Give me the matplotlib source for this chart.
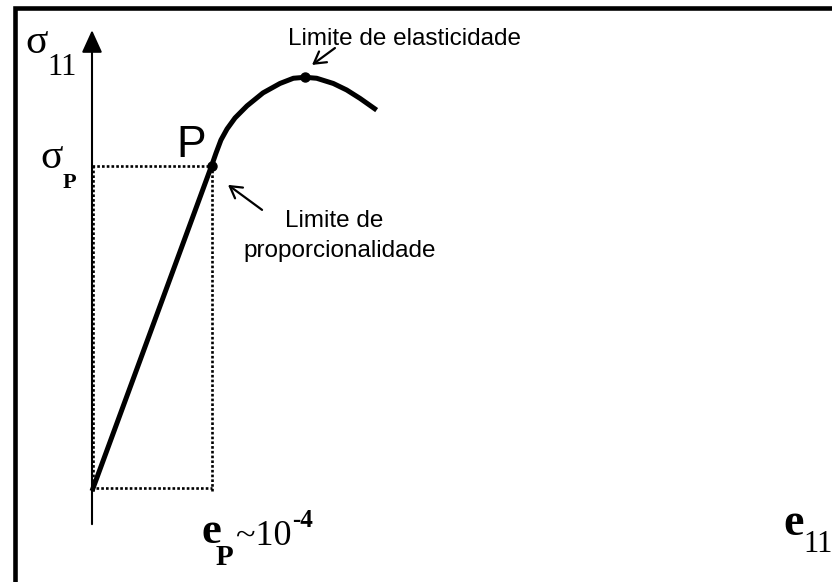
import matplotlib
matplotlib.use("Agg")
import matplotlib.pyplot as plt
from matplotlib.patches import Rectangle

# Stress-strain curve (strain in units of e_P, stress in units of sigma_P)
strain = [0.0, 1.0, 1.038, 1.079, 1.130, 1.197, 1.297, 1.431, 1.573, 1.685,
          1.782, 1.880, 2.019, 2.131, 2.243, 2.382]
stress = [0.0, 1.0, 1.040, 1.080, 1.114, 1.148, 1.185, 1.225, 1.254, 1.270,
          1.273, 1.270, 1.254, 1.234, 1.208, 1.172]

prop_limit = (1.0, 1.0)          # point P
elastic_limit = (1.782, 1.273)   # top of the curve

label_elastic = "Limite de elasticidade"
label_prop = ["Limite de", "proporcionalidade"]
label_p = "P"

SERIF = "Liberation Serif"
SANS = "Liberation Sans"

fig = plt.figure(figsize=(8.32, 5.82), dpi=100)
ax = fig.add_axes([0, 0, 1, 1])
ax.set_xlim(-0.7699, 6.1925)
ax.set_ylim(-0.28, 1.5108)
ax.axis("off")

# outer frame (only left and top edges fall inside the canvas)
ax.add_patch(Rectangle((14.5 / 832, -0.1), 1.2, 1.1 - 8 / 582,
                       transform=ax.transAxes, fill=False, lw=3.3,
                       edgecolor="black"))

# coordinate axes with arrow heads
arrow_kw = dict(arrowstyle="-|>,head_length=0.55,head_width=0.25",
                lw=1.5, color="black", mutation_scale=25,
                shrinkA=0, shrinkB=0)
ax.annotate("", xy=(6.201, 0), xytext=(-0.619, 0), arrowprops=arrow_kw)
ax.annotate("", xy=(0, 1.418), xytext=(0, -0.102), arrowprops=arrow_kw)

# dotted guides to the proportionality point
px, py = prop_limit
dot_style = dict(color="black", lw=1.9, linestyle=(0, (1.0, 0.8)))
ax.plot([0, px], [py, py], **dot_style)
ax.plot([px, px], [0, py], **dot_style)
ax.plot([0.03, px], [0.008, 0.008], **dot_style)
ax.plot([0.012, 0.012], [0, py], **dot_style)

# the curve
ax.plot(strain, stress, color="black", lw=3.6,
        solid_joinstyle="round", solid_capstyle="butt")
ax.plot(*prop_limit, "o", color="black", ms=6.5)
ax.plot(*elastic_limit, "o", color="black", ms=6.5)

# annotations
thin_arrow = dict(arrowstyle="->,head_length=0.55,head_width=0.32",
                  lw=1.6, color="black", mutation_scale=15,
                  shrinkA=0, shrinkB=0)
ax.text(2.619, 1.372, label_elastic, family=SANS, fontsize=17.5,
        ha="center", va="baseline")
ax.annotate("", xy=(1.841, 1.311), xytext=(2.033, 1.363),
            arrowprops=thin_arrow)

ax.text(0.833, 1.028, label_p, family=SANS, fontsize=32,
        ha="center", va="baseline")
ax.annotate("", xy=(1.138, 0.942), xytext=(1.423, 0.865),
            arrowprops=thin_arrow)
ax.text(2.025, 0.812, label_prop[0], family=SANS, fontsize=17.5,
        ha="center", va="baseline")
ax.text(2.075, 0.720, label_prop[1], family=SANS, fontsize=17.5,
        ha="center", va="baseline")

# axis symbols
ax.text(-0.560, 1.348, "σ", family=SERIF, fontsize=30, ha="left", va="baseline")
ax.text(-0.370, 1.280, "11", family=SERIF, fontsize=22, ha="left", va="baseline")

ax.text(-0.435, 0.994, "σ", family=SERIF, fontsize=30, ha="left", va="baseline")
ax.text(-0.250, 0.932, "P", family=SERIF, fontsize=16, weight="bold",
        ha="left", va="baseline")

ax.text(0.915, -0.160, "e", family=SERIF, fontsize=32, weight="bold",
        ha="left", va="baseline")
ax.text(1.035, -0.228, "P", family=SERIF, fontsize=21, weight="bold",
        ha="left", va="baseline")
ax.text(1.205, -0.166, "~10", family=SERIF, fontsize=26,
        ha="left", va="baseline")
ax.text(1.675, -0.111, "-4", family=SERIF, fontsize=18, weight="bold",
        ha="left", va="baseline")

ax.text(5.785, -0.135, "e", family=SERIF, fontsize=33, weight="bold",
        ha="left", va="baseline")
ax.text(5.950, -0.188, "11", family=SERIF, fontsize=22,
        ha="left", va="baseline")

fig.savefig("out.png", dpi=100)
